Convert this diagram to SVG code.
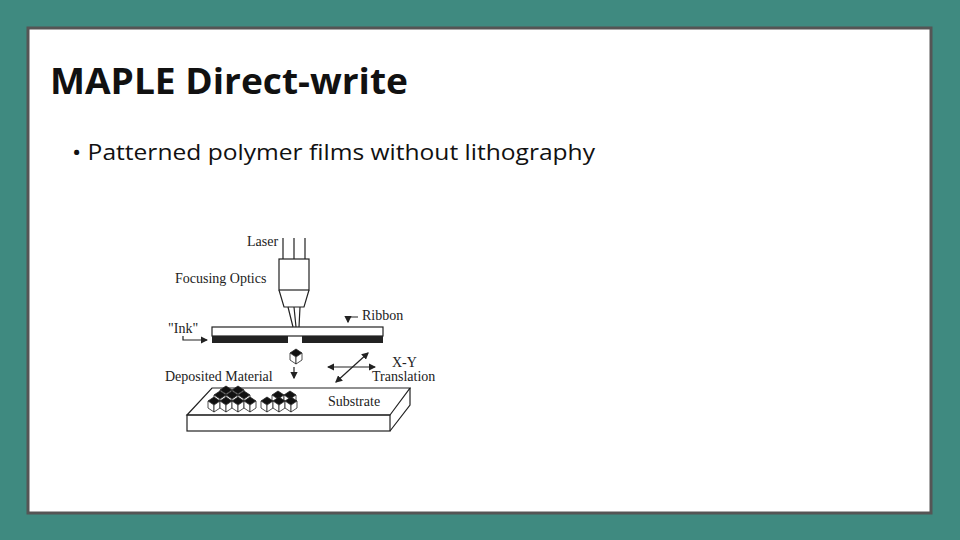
<svg xmlns="http://www.w3.org/2000/svg" width="960" height="540" viewBox="0 0 960 540">
<style>
.s{font-family:"Liberation Serif",serif;font-size:14px;fill:#222}
.l{stroke:#222;stroke-width:1.2;fill:none}
.c{stroke:#222;stroke-width:0.8}
</style>
<defs>
<marker id="a" markerWidth="6" markerHeight="6" refX="5" refY="3" orient="auto-start-reverse"><path d="M0,0L6,3L0,6z" fill="#222"/></marker>
<g id="cube"><path d="M0,4L6,0L12,4L6,8z" fill="#111" class="c"/><path d="M0,4L6,8L6,15L0,11z" fill="#fff" class="c"/><path d="M6,8L12,4L12,11L6,15z" fill="#fff" class="c"/></g>
</defs>
<rect width="960" height="540" fill="#3f8a80"/>
<rect x="28" y="28" width="903" height="485" fill="#fff" stroke="#555" stroke-width="3"/>
<text x="50" y="94" font-family="Open Sans,sans-serif" font-weight="bold" font-size="35" fill="#111" textLength="358" lengthAdjust="spacingAndGlyphs">MAPLE Direct-write</text>
<text x="72" y="160" font-family="Open Sans,sans-serif" font-size="22" fill="#111" textLength="523" lengthAdjust="spacingAndGlyphs">• Patterned polymer films without lithography</text>
<g id="laser"><path class="l" d="M283,238V259M294,238V259M305,238V259"/><text class="s" x="247" y="246">Laser</text></g>
<g id="optics"><rect x="279" y="259" width="30" height="31" class="l" fill="#fff"/><path class="l" d="M279,290L284,307H304L309,290"/><path class="l" d="M288,307L293,327M294,307L296,327M300,307L299,327"/><text class="s" x="175" y="283">Focusing Optics</text></g>
<g id="ribbon"><rect x="212" y="327" width="171" height="9" class="l" fill="#fff"/><rect x="212" y="336" width="76" height="7" fill="#222"/><rect x="302" y="336" width="81" height="7" fill="#222"/><text class="s" x="362" y="320">Ribbon</text><text class="s" x="168" y="333">"Ink"</text></g>
<g id="deposit"><use href="#cube" x="290" y="349"/><path class="l" d="M294,367V378" stroke-width="0.8" marker-end="url(#a)"/><text class="s" x="165" y="381">Deposited Material</text></g>
<g id="translation"><path class="l" d="M328,367H375" marker-start="url(#a)" marker-end="url(#a)"/><path class="l" d="M336,382L368,353" marker-start="url(#a)" marker-end="url(#a)"/><text class="s" x="392" y="367">X-Y</text><text class="s" x="372" y="381">Translation</text></g>
<g id="substrate"><path class="l" d="M187,415L212,388H410L390,415z" fill="#fff"/><rect x="187" y="415" width="203" height="16" class="l" fill="#fff"/><path class="l" d="M390,431L410,405V388" /><text class="s" x="328" y="406">Substrate</text>
<use href="#cube" x="220" y="386"/><use href="#cube" x="232" y="386"/><use href="#cube" x="214" y="391"/><use href="#cube" x="226" y="391"/><use href="#cube" x="238" y="391"/><use href="#cube" x="208" y="397"/><use href="#cube" x="220" y="397"/><use href="#cube" x="232" y="397"/><use href="#cube" x="244" y="397"/><use href="#cube" x="272" y="391"/><use href="#cube" x="284" y="391"/><use href="#cube" x="261" y="397"/><use href="#cube" x="273" y="397"/><use href="#cube" x="285" y="397"/></g>
<g id="connectors"><path class="l" d="M358,317H348V322" stroke-width="1" marker-end="url(#a)"/><path class="l" d="M183,336V340H207" stroke-width="1" marker-end="url(#a)"/></g>
</svg>
